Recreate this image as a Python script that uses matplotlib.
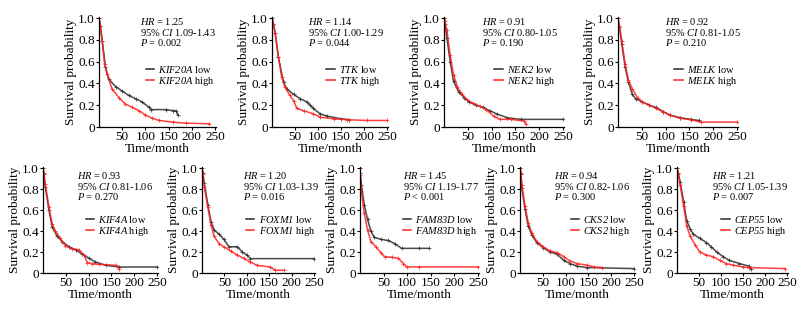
import matplotlib
matplotlib.use("Agg")
import matplotlib.pyplot as plt
from matplotlib.lines import Line2D

plt.rcParams['font.family'] = ['Liberation Serif', 'DejaVu Serif']
plt.rcParams['mathtext.fontset'] = 'custom'
plt.rcParams['mathtext.rm'] = 'Liberation Serif'
plt.rcParams['mathtext.it'] = 'Liberation Serif:italic'
plt.rcParams['mathtext.sf'] = 'Liberation Serif:italic'

genes = ['KIF20A', 'TTK', 'NEK2', 'MELK', 'KIF4A', 'FOXM1', 'FAM83D', 'CKS2', 'CEP55']
hr_vals = ['1.25', '1.14', '0.91', '0.92', '0.93', '1.20', '1.45', '0.94', '1.21']
ci_vals = ['1.09-1.43', '1.00-1.29', '0.80-1.05', '0.81-1.05', '0.81-1.06',
           '1.03-1.39', '1.19-1.77', '0.82-1.06', '1.05-1.39']
p_vals = ['= 0.002', '= 0.044', '= 0.190', '= 0.210', '= 0.270',
          '= 0.016', '< 0.001', '= 0.300', '= 0.007']

kif20a_low_t = [0, 3, 7, 14, 21, 36, 50, 64, 79, 93, 108, 112, 144, 159, 166, 170]
kif20a_low_s = [1.0, 0.93, 0.79, 0.55, 0.44, 0.37, 0.33, 0.29, 0.26, 0.23, 0.18, 0.16, 0.16, 0.15, 0.15, 0.11]
kif20a_high_t = [0, 3, 7, 12, 17, 28, 43, 57, 72, 86, 100, 115, 130, 159, 188, 238]
kif20a_high_s = [1.0, 0.93, 0.79, 0.58, 0.49, 0.35, 0.27, 0.21, 0.18, 0.15, 0.11, 0.08, 0.06, 0.045, 0.035, 0.03]

ttk_low_t = [0, 3, 7, 14, 25, 32, 47, 61, 76, 83, 90, 105, 120, 149, 167]
ttk_low_s = [1.0, 0.95, 0.86, 0.64, 0.41, 0.35, 0.30, 0.26, 0.23, 0.20, 0.17, 0.12, 0.10, 0.076, 0.067]
ttk_high_t = [0, 3, 7, 14, 21, 28, 39, 47, 54, 69, 90, 105, 134, 163, 207, 250]
ttk_high_s = [1.0, 0.95, 0.86, 0.64, 0.46, 0.37, 0.29, 0.24, 0.17, 0.15, 0.12, 0.09, 0.076, 0.067, 0.06, 0.06]

nek2_low_t = [0, 2, 6, 13, 20, 31, 42, 53, 67, 82, 96, 111, 133, 162, 250]
nek2_low_s = [1.0, 0.95, 0.82, 0.60, 0.42, 0.32, 0.27, 0.23, 0.20, 0.18, 0.15, 0.12, 0.085, 0.07, 0.07]
nek2_high_t = [0, 2, 6, 13, 20, 28, 38, 49, 60, 75, 89, 104, 118, 140, 169, 172]
nek2_high_s = [1.0, 0.97, 0.89, 0.66, 0.48, 0.37, 0.30, 0.25, 0.22, 0.19, 0.16, 0.10, 0.07, 0.07, 0.055, 0.025]

melk_low_t = [0, 3, 8, 15, 22, 30, 37, 51, 66, 80, 95, 109, 131, 153, 170]
melk_low_s = [1.0, 0.92, 0.76, 0.55, 0.41, 0.30, 0.26, 0.23, 0.20, 0.18, 0.14, 0.11, 0.085, 0.07, 0.06]
melk_high_t = [0, 3, 8, 15, 22, 30, 41, 51, 66, 80, 95, 109, 131, 153, 174, 250]
melk_high_s = [1.0, 0.93, 0.79, 0.58, 0.43, 0.35, 0.27, 0.23, 0.20, 0.17, 0.14, 0.11, 0.08, 0.067, 0.045, 0.045]

kif4a_low_t = [0, 2, 5, 13, 20, 31, 42, 57, 72, 86, 101, 115, 138, 167, 250]
kif4a_low_s = [1.0, 0.94, 0.82, 0.60, 0.44, 0.35, 0.30, 0.25, 0.22, 0.18, 0.14, 0.105, 0.073, 0.057, 0.057]
kif4a_high_t = [0, 2, 5, 13, 20, 27, 38, 49, 64, 79, 90, 97, 108, 123, 160, 167]
kif4a_high_s = [1.0, 0.95, 0.85, 0.63, 0.47, 0.40, 0.33, 0.26, 0.23, 0.22, 0.17, 0.10, 0.09, 0.082, 0.073, 0.04]

foxm1_low_t = [0, 2, 5, 13, 20, 27, 38, 49, 60, 79, 90, 101, 108, 250]
foxm1_low_s = [1.0, 0.95, 0.86, 0.65, 0.49, 0.41, 0.37, 0.32, 0.25, 0.25, 0.20, 0.17, 0.137, 0.137]
foxm1_high_t = [0, 2, 5, 13, 20, 27, 38, 49, 64, 79, 93, 108, 123, 152, 164, 182]
foxm1_high_s = [1.0, 0.94, 0.82, 0.63, 0.46, 0.35, 0.28, 0.25, 0.21, 0.17, 0.14, 0.105, 0.073, 0.058, 0.026, 0.026]

fam83d_low_t = [0, 0.5, 3, 9, 16, 23, 30, 45, 59, 74, 88, 125, 146]
fam83d_low_s = [1.0, 0.95, 0.84, 0.65, 0.51, 0.40, 0.34, 0.32, 0.31, 0.28, 0.235, 0.235, 0.235]
fam83d_high_t = [0, 0.5, 3, 9, 16, 23, 34, 45, 52, 67, 81, 92, 99, 125, 250]
fam83d_high_s = [1.0, 0.93, 0.78, 0.57, 0.41, 0.30, 0.25, 0.19, 0.155, 0.15, 0.14, 0.09, 0.058, 0.058, 0.058]

cks2_low_t = [0, 2, 4, 11, 18, 26, 37, 51, 66, 81, 96, 110, 125, 147, 250]
cks2_low_s = [1.0, 0.94, 0.81, 0.61, 0.45, 0.36, 0.29, 0.24, 0.20, 0.18, 0.12, 0.09, 0.065, 0.052, 0.042]
cks2_high_t = [0, 2, 4, 11, 18, 26, 37, 51, 66, 81, 96, 110, 125, 147, 162, 180]
cks2_high_s = [1.0, 0.95, 0.84, 0.64, 0.48, 0.38, 0.30, 0.25, 0.21, 0.195, 0.156, 0.114, 0.09, 0.075, 0.058, 0.052]

cep55_low_t = [0, 3, 7, 15, 22, 30, 37, 52, 67, 78, 90, 105, 119, 142, 164, 168]
cep55_low_s = [1.0, 0.95, 0.87, 0.68, 0.50, 0.42, 0.37, 0.33, 0.29, 0.25, 0.20, 0.156, 0.12, 0.09, 0.065, 0.04]
cep55_high_t = [0, 3, 7, 15, 22, 30, 41, 52, 67, 82, 97, 112, 127, 149, 164, 246]
cep55_high_s = [1.0, 0.94, 0.84, 0.64, 0.45, 0.35, 0.27, 0.20, 0.17, 0.156, 0.12, 0.09, 0.075, 0.058, 0.052, 0.042]

curves = [
    (kif20a_low_t, kif20a_low_s, kif20a_high_t, kif20a_high_s),
    (ttk_low_t, ttk_low_s, ttk_high_t, ttk_high_s),
    (nek2_low_t, nek2_low_s, nek2_high_t, nek2_high_s),
    (melk_low_t, melk_low_s, melk_high_t, melk_high_s),
    (kif4a_low_t, kif4a_low_s, kif4a_high_t, kif4a_high_s),
    (foxm1_low_t, foxm1_low_s, foxm1_high_t, foxm1_high_s),
    (fam83d_low_t, fam83d_low_s, fam83d_high_t, fam83d_high_s),
    (cks2_low_t, cks2_low_s, cks2_high_t, cks2_high_s),
    (cep55_low_t, cep55_low_s, cep55_high_t, cep55_high_s),
]

W, H = 809, 310
fig = plt.figure(figsize=(W / 100, H / 100), dpi=100)

# pixel layout: (x at t=0, x at t=250, y at s=0, y at s=1) for each panel
px_layout = [
    (99, 215, 127, 17), (272, 387, 127, 17), (444, 563, 127, 17), (618, 737, 127, 17),
    (43, 157, 273, 167), (202, 314, 273, 167), (360, 478, 273, 167), (520, 634, 273, 167),
    (677, 787, 273, 167),
]
stat_x = [0.35, 0.31, 0.32, 0.39, 0.30, 0.36, 0.36, 0.30, 0.32]
leg_x = [0.42, 0.49, 0.44, 0.49, 0.39, 0.41, 0.38, 0.46, 0.42]

XMAX = 252
BLACK = '#2a2a2a'
RED = '#ff1f1f'

for i, (g, (lt, ls, ht, hs)) in enumerate(zip(genes, curves)):
    x0, x250, y0, y1 = px_layout[i]
    wpx = (x250 - x0) * XMAX / 250
    hpx = y0 - y1
    ax = fig.add_axes([x0 / W, (H - y0) / H, wpx / W, hpx / H])
    ax.plot(lt, ls, color=BLACK, lw=1.1, marker='+', ms=3, mew=0.6, alpha=0.85)
    ax.plot(ht, hs, color=RED, lw=1.1, marker='+', ms=3, mew=0.6, alpha=0.85)
    ax.set_xlim(0, XMAX)
    ax.set_ylim(0, 1.01)
    ax.set_xticks([50, 100, 150, 200, 250])
    ax.set_yticks([0, 0.2, 0.4, 0.6, 0.8, 1.0])
    ax.set_yticklabels(['0', '0.2', '0.4', '0.6', '0.8', '1.0'])
    for s in ('top', 'right'):
        ax.spines[s].set_visible(False)
    for s in ('left', 'bottom'):
        ax.spines[s].set_linewidth(0.9)
    ax.tick_params(length=2, width=0.8, pad=1, labelsize=9.5)
    ax.set_xlabel('Time/month', fontsize=9.5, labelpad=0)
    ax.set_ylabel('Survival probability', fontsize=9.5, labelpad=1)
    ax.patch.set_alpha(0)

    yt = 0.955 if i < 4 else 0.92
    dy = 0.095 if i < 4 else 0.10
    ax.text(stat_x[i], yt, r'$HR$ = ' + hr_vals[i], transform=ax.transAxes,
            fontsize=7.5, va='center', ha='left')
    ax.text(stat_x[i], yt - dy, r'95% $CI$ ' + ci_vals[i], transform=ax.transAxes,
            fontsize=7.5, va='center', ha='left')
    ax.text(stat_x[i], yt - 2 * dy, r'$P$ ' + p_vals[i], transform=ax.transAxes,
            fontsize=7.5, va='center', ha='left')

    handles = [Line2D([], [], color=BLACK, lw=1.1), Line2D([], [], color=RED, lw=1.1)]
    labels = [r'$\mathsf{' + g + '}$ low', r'$\mathsf{' + g + '}$ high']
    ly = 0.465 if i < 4 else 0.445
    ax.legend(handles, labels, loc='center left', bbox_to_anchor=(leg_x[i] - 0.02, ly),
              frameon=False, fontsize=7.5, handlelength=0.8, handletextpad=0.4,
              labelspacing=0.05, borderpad=0, borderaxespad=0)

fig.savefig('out.png', dpi=100)
